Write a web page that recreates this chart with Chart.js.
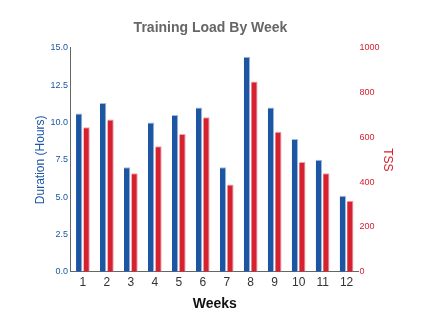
<!DOCTYPE html>
<html>
<head>
<meta charset="utf-8">
<script src="https://cdn.jsdelivr.net/npm/chart.js@4"></script>
<style>
  html, body { margin: 0; padding: 0; background: #fff; }
  #wrap { width: 428px; height: 329px; }
</style>
</head>
<body>
<div id="wrap"><canvas id="chart"></canvas></div>
<script>
// data
const weeks = ['1', '2', '3', '4', '5', '6', '7', '8', '9', '10', '11', '12'];
const durationHours = [10.6, 11.3, 7.0, 10.0, 10.5, 11.0, 7.0, 14.4, 11.0, 8.9, 7.5, 5.1];
const tss = [645, 680, 440, 560, 615, 690, 390, 850, 625, 490, 440, 317];

const BLUE = 'rgb(28, 86, 163)';
const RED = 'rgb(213, 33, 48)';

Chart.defaults.font.family = '"Liberation Sans", Arial, sans-serif';

new Chart(document.getElementById('chart'), {
  type: 'bar',
  data: {
    labels: weeks,
    datasets: [
      {
        label: 'Duration',
        data: durationHours,
        yAxisID: 'y',
        backgroundColor: BLUE,
        borderColor: 'rgba(150, 180, 220, 0.9)',
        borderWidth: { right: 1, top: 1 },
        barPercentage: 0.85,
        categoryPercentage: 0.62,
      },
      {
        label: 'TSS',
        data: tss,
        yAxisID: 'y1',
        backgroundColor: RED,
        borderColor: 'rgba(235, 150, 160, 0.9)',
        borderWidth: { right: 1, top: 1 },
        barPercentage: 0.85,
        categoryPercentage: 0.62,
      },
    ],
  },
  options: {
    responsive: true,
    maintainAspectRatio: false,
    animation: false,
    layout: { padding: { left: 17, right: 24, top: 6, bottom: 12 } },
    plugins: {
      legend: { display: false },
      tooltip: { enabled: false },
      title: {
        display: true,
        text: 'Training Load By Week',
        color: '#666',
        font: { size: 14, weight: 'bold' },
        padding: { top: 14, bottom: 11 },
      },
    },
    scales: {
      x: {
        grid: { display: false, drawTicks: false },
        border: { display: true, color: '#666' },
        ticks: { color: '#333', font: { size: 12 }, padding: 4 },
        title: {
          display: true,
          text: 'Weeks',
          color: '#111',
          font: { size: 14, weight: 'bold' },
          padding: { top: 2 },
        },
      },
      y: {
        position: 'left',
        min: 0,
        max: 15,
        grid: { display: false, drawTicks: false },
        border: { display: true, color: '#666' },
        ticks: {
          stepSize: 2.5,
          color: BLUE,
          font: { size: 9 },
          padding: 3,
          callback: (v) => v.toFixed(1),
        },
        title: {
          display: true,
          text: 'Duration (Hours)',
          color: BLUE,
          font: { size: 12 },
          padding: { top: 16, bottom: 0 },
        },
      },
      y1: {
        position: 'right',
        min: 0,
        max: 1000,
        grid: { display: false, drawTicks: false },
        border: { display: false },
        ticks: { stepSize: 200, color: RED, font: { size: 9 }, padding: 1, callback: (v) => String(v) },
        title: {
          display: true,
          text: 'TSS',
          color: RED,
          font: { size: 12 },
          padding: { top: 9, bottom: 0 },
        },
      },
    },
  },
});
</script>
</body>
</html>
